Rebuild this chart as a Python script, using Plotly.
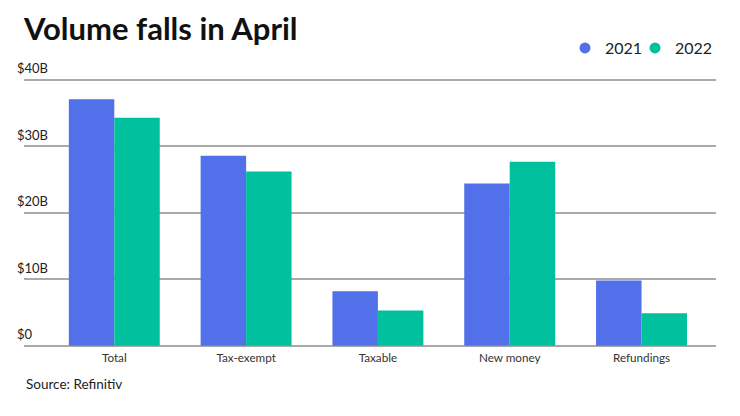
import plotly.graph_objects as go

categories = ["Total", "Tax-exempt", "Taxable", "New money", "Refundings"]
vol_2021 = [37.1, 28.6, 8.2, 24.4, 9.8]
vol_2022 = [34.3, 26.2, 5.3, 27.7, 4.9]
y_ticks = [0, 10, 20, 30, 40]
y_tick_labels = ["$0", "$10B", "$20B", "$30B", "$40B"]

c2021 = "#5170E9"
c2022 = "#00C09E"
font_family = "Lato, 'Open Sans', sans-serif"

OFF = 8  # page body margin offset
W, H = 740, 416
y0_px, y40_px = 345.5 - OFF, 79.5 - OFF
px_per = (y0_px - y40_px) / 40
y_bot, y_top = -0.8, 44.5
top_margin = y40_px - (y_top - 40) * px_per
bot_px = y0_px + (0 - y_bot) * px_per
left_px, right_px = 24 - OFF, 716 - OFF
plot_h = bot_px - top_margin

fig = go.Figure()
fig.add_trace(go.Bar(name="2021", x=categories, y=vol_2021, marker=dict(color=c2021, line=dict(width=0)), showlegend=False))
fig.add_trace(go.Bar(name="2022", x=categories, y=vol_2022, marker=dict(color=c2022, line=dict(width=0)), showlegend=False))
fig.add_trace(go.Scatter(name="2021", x=[None], y=[None], mode="markers", marker=dict(color=c2021, size=11, symbol="circle")))
fig.add_trace(go.Scatter(name="2022", x=[None], y=[None], mode="markers", marker=dict(color=c2022, size=11, symbol="circle")))
# invisible spacer entry so the last legend label is not clipped
fig.add_trace(go.Scatter(name=" ", x=[None], y=[None], mode="markers", marker=dict(color="rgba(0,0,0,0)", size=1),
                         hoverinfo="skip"))

fig.update_layout(
    width=W, height=H,
    margin=dict(l=left_px, r=W - right_px, t=top_margin, b=H - bot_px, pad=0, autoexpand=False),
    paper_bgcolor="white", plot_bgcolor="white",
    font=dict(family=font_family, color="#222222", size=12),
    barmode="group", bargap=0.31, bargroupgap=0,
    title=dict(text="<b>Volume falls in April</b>", x=(24 - OFF) / W, xanchor="left", xref="container",
               y=1 - (29 - OFF) / H, yanchor="middle", yref="container",
               font=dict(size=31, color="#111111", family=font_family)),
    legend=dict(orientation="h", x=(565 - OFF) / W, xanchor="left", xref="container",
                y=1 - (48 - OFF) / H, yanchor="middle", yref="container",
                font=dict(size=16, color="#222222"), itemwidth=30, traceorder="normal",
                entrywidth=25, entrywidthmode="pixels", itemclick=False, itemdoubleclick=False),
    showlegend=True,
)
fig.update_xaxes(
    range=[-0.685, 4.565], showline=False, showgrid=False, ticks="",
    tickfont=dict(size=11.7, color="#333333"), fixedrange=True, automargin=False,
    ticklabelstandoff=-2,
)
fig.update_yaxes(
    range=[y_bot, y_top], tickvals=y_ticks, ticktext=y_tick_labels,
    showgrid=True, gridcolor="#AAAAAA", gridwidth=1.5,
    zeroline=True, zerolinecolor="#AAAAAA", zerolinewidth=1.5, showline=False,
    ticks="", ticklabelposition="inside top", ticklabelstandoff=-10, ticklabelshift=-2,
    tickfont=dict(size=13, color="#222222"), fixedrange=True, automargin=False,
)
fig.add_annotation(text="Source: Refinitiv", xref="paper", yref="paper", x=0, xanchor="left",
                   y=-((384 - OFF) - bot_px) / plot_h,
                   yanchor="middle", showarrow=False,
                   font=dict(size=13.5, color="#222222"))

fig.write_html("out.html")
